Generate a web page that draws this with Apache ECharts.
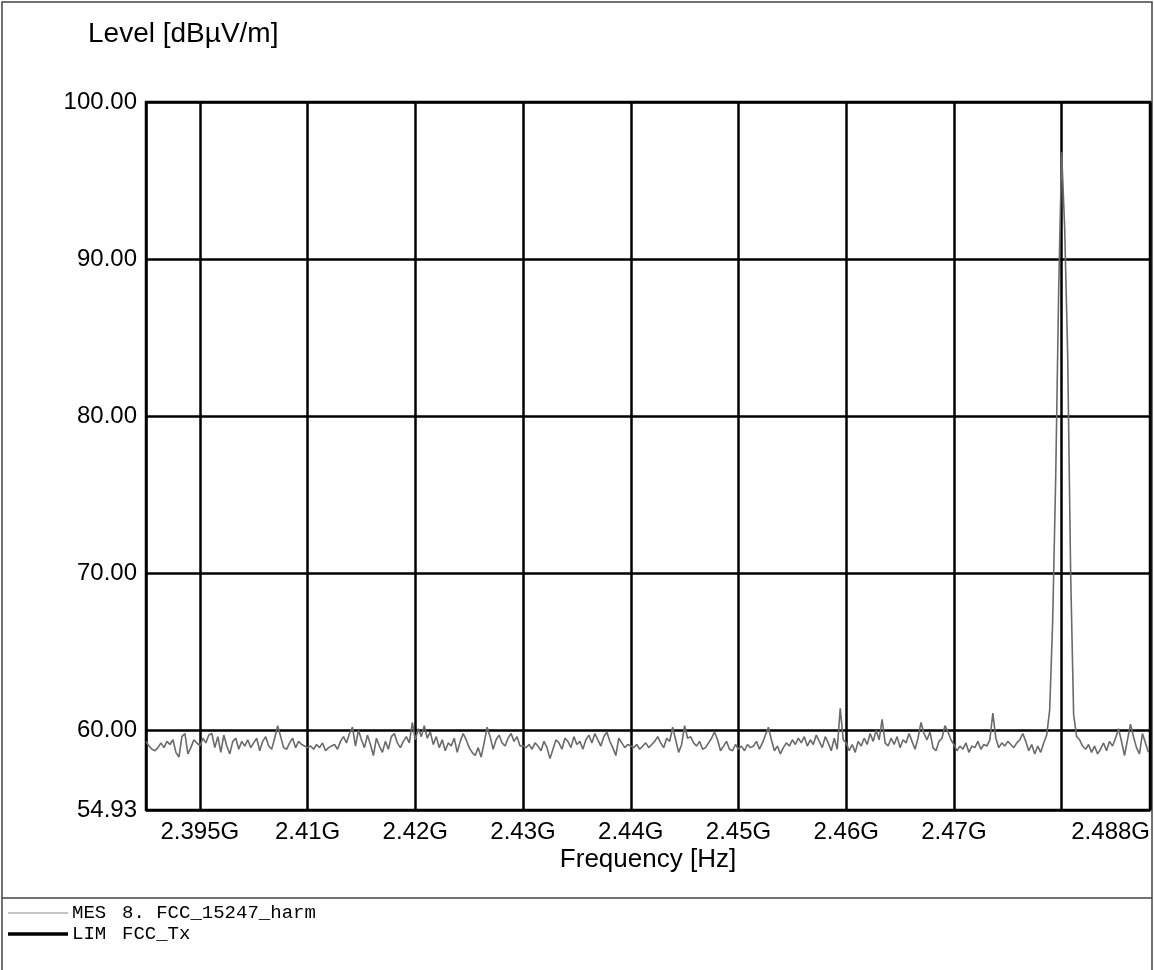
<!DOCTYPE html>
<html><head><meta charset="utf-8">
<script src="https://cdn.jsdelivr.net/npm/echarts@6/dist/echarts.min.js"></script>
<style>html,body{margin:0;padding:0;background:#fff}#c{width:1154px;height:970px}</style>
</head><body><div id="c"></div>
<script>
// x axis: positions measured in grid divisions; division k (1..9) is a vertical grid line
const X_TICK_LABELS = ['2.395G','2.41G','2.42G','2.43G','2.44G','2.45G','2.46G','2.47G',''];
const X_END_LABEL = '2.488G';
const X_MIN = 0.5, X_MAX = 9.82;
const Y_MIN = 54.93, Y_MAX = 100;
const SAMPLES_PER_DIV = 36;

// MES trace, dBµV/m, one value per sample from the left edge
const MES_0 = [59.3,59.0,58.8,58.7,58.9,59.2,58.9,59.3,59.1,59.4,58.6,58.3,59.6,59.8,58.5,58.9,59.4,59.2];
const MES_1 = [59.0,59.5,59.2,59.7,59.8,58.9,59.6,58.6,59.7,59.0,58.5,59.3,59.5,58.8,59.3,59.0,59.4,58.9,59.2,59.5,58.7,59.3,59.6,59.0,58.8,59.5,60.3,59.6,58.9,58.8,59.2,59.5,58.9,59.3,59.1,59.0];
const MES_2 = [58.9,59.0,58.8,59.1,58.9,59.2,58.7,58.9,59.0,59.1,58.8,59.3,59.6,59.2,59.8,60.2,59.0,60.0,59.4,58.9,59.7,59.1,58.4,59.5,59.0,58.6,59.3,58.8,59.6,59.8,59.2,58.9,59.3,59.6,59.2,60.5];
const MES_3 = [59.4,60.1,59.6,60.3,59.5,59.9,59.1,59.6,58.9,59.4,58.7,59.2,59.0,59.5,58.6,59.3,59.8,59.4,58.9,58.6,58.4,58.9,58.3,59.2,60.2,59.6,58.8,59.4,59.7,59.2,59.0,59.5,59.8,59.3,59.6,59.0];
const MES_4 = [59.0,58.9,59.1,58.8,59.2,59.0,58.7,59.3,58.9,58.2,58.8,59.4,59.2,58.8,59.5,59.3,58.9,59.6,59.1,59.3,58.8,59.4,59.7,59.2,59.8,59.4,59.0,59.6,59.9,59.3,58.9,58.4,59.5,59.2,58.9,59.1];
const MES_5 = [59.0,58.9,59.1,58.8,59.0,59.2,58.9,59.1,59.3,59.6,59.2,58.9,59.5,59.3,60.2,59.4,58.6,59.1,60.3,59.5,59.6,59.2,59.0,59.3,58.8,58.9,59.2,59.5,59.9,59.4,58.7,59.0,59.3,58.8,58.7,59.1];
const MES_6 = [58.8,59.0,58.7,59.1,58.9,59.0,59.3,58.8,59.2,59.7,60.2,59.4,58.7,59.0,58.5,58.9,59.2,59.0,59.4,59.1,59.5,59.2,59.6,59.0,59.4,59.1,59.7,59.3,58.9,59.6,59.2,58.7,59.5,58.8,61.4,59.4];
const MES_7 = [59.2,58.7,59.1,58.6,59.3,59.0,59.5,59.1,59.8,59.3,60.0,59.4,60.7,59.2,59.0,59.5,59.1,59.6,58.9,59.4,59.2,59.8,59.3,58.8,59.5,60.5,59.8,59.4,59.9,58.9,58.7,59.3,59.5,60.3,59.9,59.4];
const MES_8 = [59.1,58.7,59.0,58.8,59.2,58.6,59.0,58.9,59.3,58.8,59.1,59.0,59.4,61.1,59.5,58.9,59.2,59.0,59.3,59.1,58.9,59.2,59.4,59.8,59.3,58.7,59.1,58.5,59.0,58.6,59.2,59.7,61.3,67.0,76.0,88.0];
const MES_9 = [96.8,92.0,84.0,70.0,61.0,59.6,59.4,59.0,58.8,59.1,58.6,59.0,58.5,58.8,59.2,58.7,59.3,59.0,59.5,60.1,59.3,58.4,59.4,60.4,59.6,58.9,58.5,59.8,59.2,58.6];
const MES = [].concat(MES_0, MES_1, MES_2, MES_3, MES_4, MES_5, MES_6, MES_7, MES_8, MES_9);

const LEGEND_ROWS = [
  {tag: 'MES', name: '8. FCC_15247_harm'},
  {tag: 'LIM', name: 'FCC_Tx'}
];
const TITLE_Y = 'Level [dBµV/m]';
const TITLE_X = 'Frequency [Hz]';

const chart = echarts.init(document.getElementById('c'), null, {renderer: 'canvas'});
const SANS = 'Liberation Sans, Arial, sans-serif';
const MONO = 'Liberation Mono, Courier New, monospace';

const graphics = [
  {type: 'rect', shape: {x: 2, y: 2, width: 1150, height: 980}, style: {fill: 'none', stroke: '#444', lineWidth: 1.5}, silent: true},
  {type: 'line', shape: {x1: 2, y1: 898, x2: 1152, y2: 898}, style: {stroke: '#444', lineWidth: 1.5}},
  {type: 'text', x: 88, y: 20, style: {text: TITLE_Y, font: '28px ' + SANS, fill: '#000'}},
  {type: 'text', x: 648, y: 847, style: {text: TITLE_X, font: '26px ' + SANS, fill: '#000', align: 'center'}}
];
LEGEND_ROWS.forEach((r, i) => {
  const y = 913 + i * 21;
  graphics.push({type: 'line', shape: {x1: 8, y1: y, x2: 68, y2: y},
    style: {stroke: i === 0 ? '#8a8a8a' : '#000', lineWidth: i === 0 ? 1 : 3.5}});
  graphics.push({type: 'text', x: 72, y: y - 10, style: {text: r.tag, font: '19px ' + MONO, fill: '#000'}});
  graphics.push({type: 'text', x: 122, y: y - 10, style: {text: r.name, font: '19px ' + MONO, fill: '#000'}});
});

chart.setOption({
  animation: false,
  backgroundColor: '#fff',
  grid: {left: 146, right: 4, top: 102, bottom: 160, show: true, borderColor: '#000', borderWidth: 2.5, backgroundColor: 'transparent'},
  xAxis: {
    type: 'value', min: X_MIN, max: X_MAX, splitNumber: 9, minInterval: 1, maxInterval: 1,
    axisLine: {show: false}, axisTick: {show: false},
    splitLine: {show: true, lineStyle: {color: '#000', width: 2.5}},
    axisLabel: {
      color: '#000', fontSize: 24, fontFamily: SANS, margin: 10,
      showMinLabel: false, showMaxLabel: true, alignMaxLabel: 'right',
      formatter: v => {
        if (Math.abs(v - X_MAX) < 1e-6) return X_END_LABEL;
        const k = Math.round(v);
        if (Math.abs(v - k) < 1e-6 && k >= 1 && k <= X_TICK_LABELS.length) return X_TICK_LABELS[k - 1];
        return '';
      }
    }
  },
  yAxis: {
    type: 'value', min: Y_MIN, max: Y_MAX, splitNumber: 5, minInterval: 10, maxInterval: 10,
    axisLine: {show: false}, axisTick: {show: false},
    splitLine: {show: true, lineStyle: {color: '#000', width: 2.5}},
    axisLabel: {color: '#000', fontSize: 24, fontFamily: SANS, margin: 9, showMinLabel: true, showMaxLabel: true,
      formatter: v => v.toFixed(2)}
  },
  series: [{
    name: 'MES', type: 'line', showSymbol: false, symbol: 'none', clip: true,
    data: MES.map((v, i) => [X_MIN + i / SAMPLES_PER_DIV, v]),
    lineStyle: {color: '#6a6a6a', width: 1.6}
  }],
  graphic: graphics
});
</script></body></html>
